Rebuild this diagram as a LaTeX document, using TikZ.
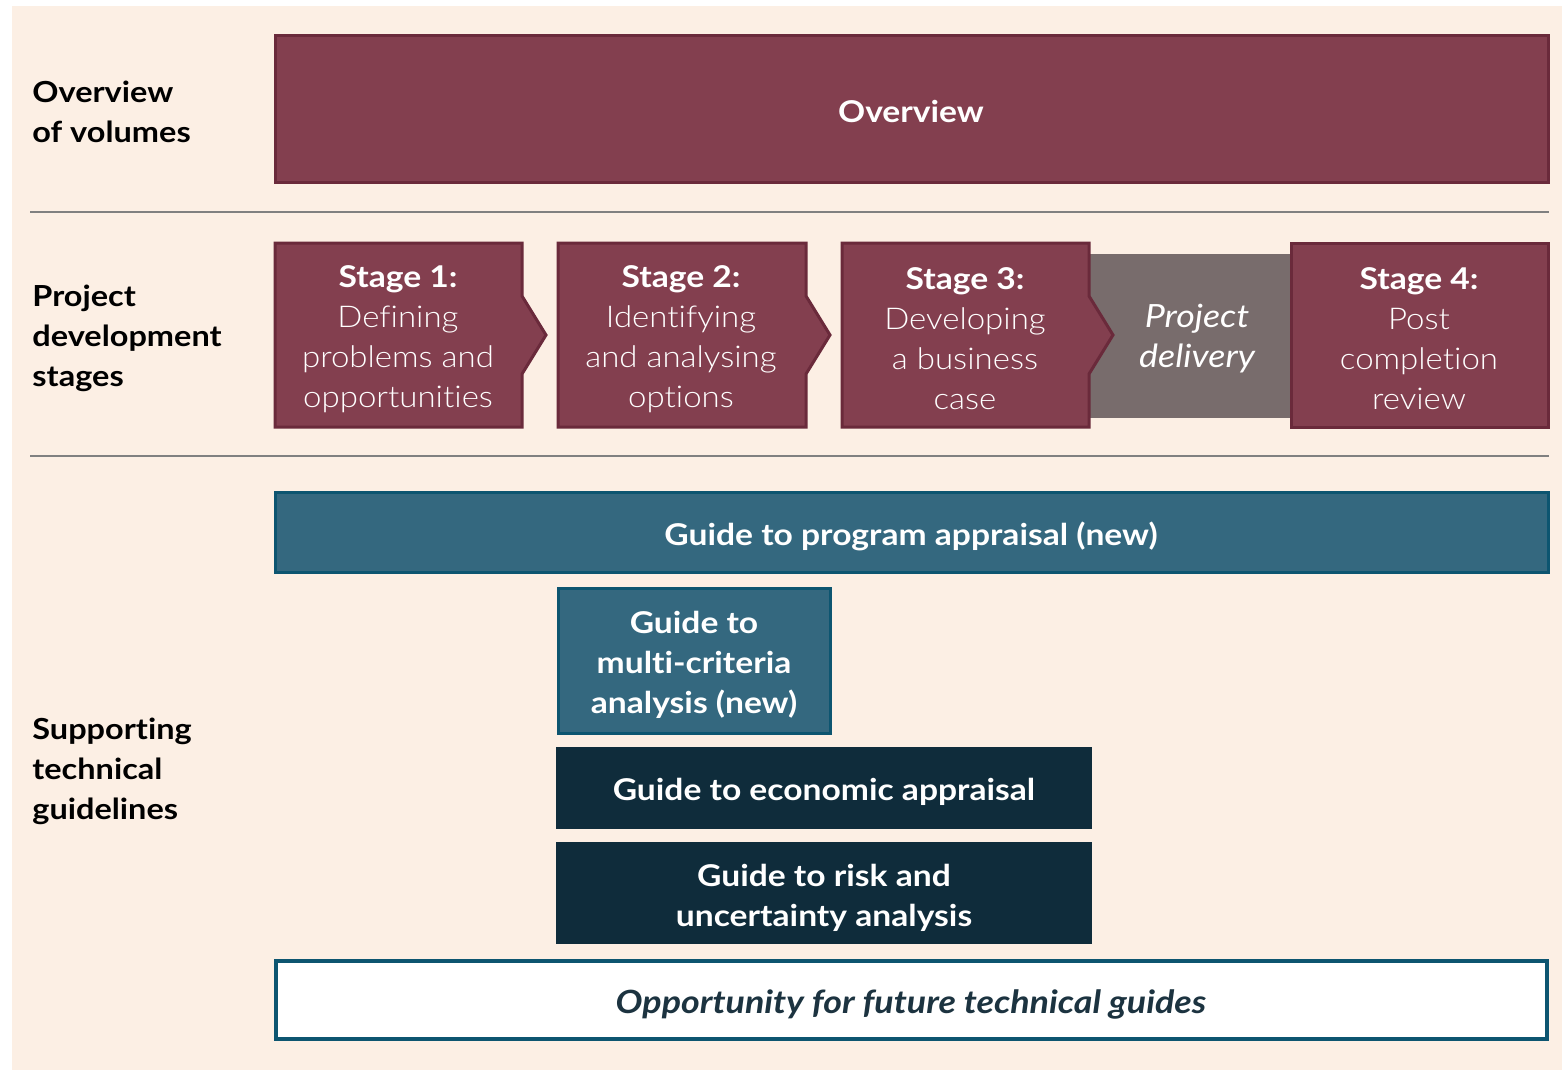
\documentclass[tikz,border=0pt]{standalone}
\usepackage{fontspec}
\setmainfont[FakeStretch=1.12, Ligatures=NoCommon]{Lato}
\newfontfamily\lightfont[FakeStretch=1.1, Ligatures=NoCommon]{Lato Light}
\definecolor{bgc}{HTML}{FCEFE4}
\definecolor{maroon}{HTML}{833F4F}
\definecolor{maroonb}{HTML}{6A2A3B}
\definecolor{delgray}{HTML}{786C6C}
\definecolor{tealf}{HTML}{34687F}
\definecolor{tealb}{HTML}{0D5570}
\definecolor{navy}{HTML}{0F2C3B}
\definecolor{opptext}{HTML}{1C3340}
\definecolor{sepc}{HTML}{808080}
\tikzset{
  lbl/.style={anchor=west, align=left, font=\fontsize{14.5}{20}\selectfont\bfseries, text=black, inner sep=0pt},
  wtxt/.style={align=center, text=white, inner sep=0pt},
  stagebox/.style={fill=maroon, draw=maroonb, line width=1.5pt, line join=miter},
  sep/.style={draw=sepc, line width=1.25pt},
}
\begin{document}
\begin{tikzpicture}[x=0.5pt,y=-0.5pt]
\useasboundingbox (0,0) rectangle (1562,1070);
\fill[white] (0,0) rectangle (1562,1070);
\fill[bgc] (12,6) rectangle (1562,1070);

% left labels
\node[lbl] (l1) at (32,112) {Overview\\of volumes};
\node[lbl] (l2) at (32,338) {Project\\development\\stages};
\node[lbl] (l3) at (32,771) {Supporting\\technical\\guidelines};

% separators
\coordinate (s1a) at (30,212); \coordinate (s1b) at (1549,212);
\coordinate (s2a) at (30,456); \coordinate (s2b) at (1549,456);
\draw[sep] (s1a) -- (s1b);
\draw[sep] (s2a) -- (s2b);

% overview
\draw[stagebox] (275,36) rectangle (1548,182);
\node[wtxt, font=\fontsize{15}{20}\selectfont\bfseries] (ov) at (911,111) {Overview};

% project delivery
\fill[delgray] (1089,254) rectangle (1290,418);

% stages
\draw[stagebox] (275,243) -- (522,243) -- (522,296) -- (546,335) -- (522,374) -- (522,427) -- (275,427) -- cycle;
\draw[stagebox] (558,243) -- (806,243) -- (806,296) -- (830,335) -- (806,374) -- (806,427) -- (558,427) -- cycle;
\draw[stagebox] (842,243) -- (1089,243) -- (1089,296) -- (1113,335) -- (1089,374) -- (1089,427) -- (842,427) -- cycle;
\draw[stagebox] (1291,243) rectangle (1548,427);

\node[wtxt, font=\fontsize{15}{20}\selectfont] (st1) at (398,339) {{\bfseries Stage 1:}\\{\lightfont Defining}\\{\lightfont problems and}\\{\lightfont opportunities}};
\node[wtxt, font=\fontsize{15}{20}\selectfont] (st2) at (681,339) {{\bfseries Stage 2:}\\{\lightfont Identifying}\\{\lightfont and analysing}\\{\lightfont options}};
\node[wtxt, font=\fontsize{15}{20}\selectfont] (st3) at (965,339) {{\bfseries Stage 3:}\\{\lightfont Developing}\\{\lightfont a business}\\{\lightfont case}};
\node[wtxt, font=\fontsize{16}{20}\selectfont\itshape] (pd) at (1197,339) {Project\\delivery};
\node[wtxt, font=\fontsize{15}{20}\selectfont] (st4) at (1419,339) {{\bfseries Stage 4:}\\{\lightfont Post}\\{\lightfont completion}\\{\lightfont review}};

% guides
\draw[fill=tealf, draw=tealb, line width=1.5pt] (275,492) rectangle (1548,572);
\node[wtxt, font=\fontsize{15}{20}\selectfont\bfseries] (gp) at (911,536) {Guide to program appraisal (new)};

\draw[fill=tealf, draw=tealb, line width=1.5pt] (558,588) rectangle (830,733);
\node[wtxt, font=\fontsize{15}{20}\selectfont\bfseries] (gm) at (694,665) {Guide to\\multi-criteria\\analysis (new)};

\fill[navy] (556,747) rectangle (1092,829);
\node[wtxt, font=\fontsize{15}{20}\selectfont\bfseries] (ge) at (824,792) {Guide to economic appraisal};

\fill[navy] (556,842) rectangle (1092,944);
\node[wtxt, font=\fontsize{15}{20}\selectfont\bfseries] (gr) at (824,898) {Guide to risk and\\uncertainty analysis};

\draw[fill=white, draw=tealb, line width=2pt] (276,961) rectangle (1547,1039);
\node[align=center, inner sep=0pt, text=opptext, font=\fontsize{16}{20}\selectfont\bfseries\itshape] (go) at (911,1004) {Opportunity for future technical guides};
\end{tikzpicture}
\end{document}
